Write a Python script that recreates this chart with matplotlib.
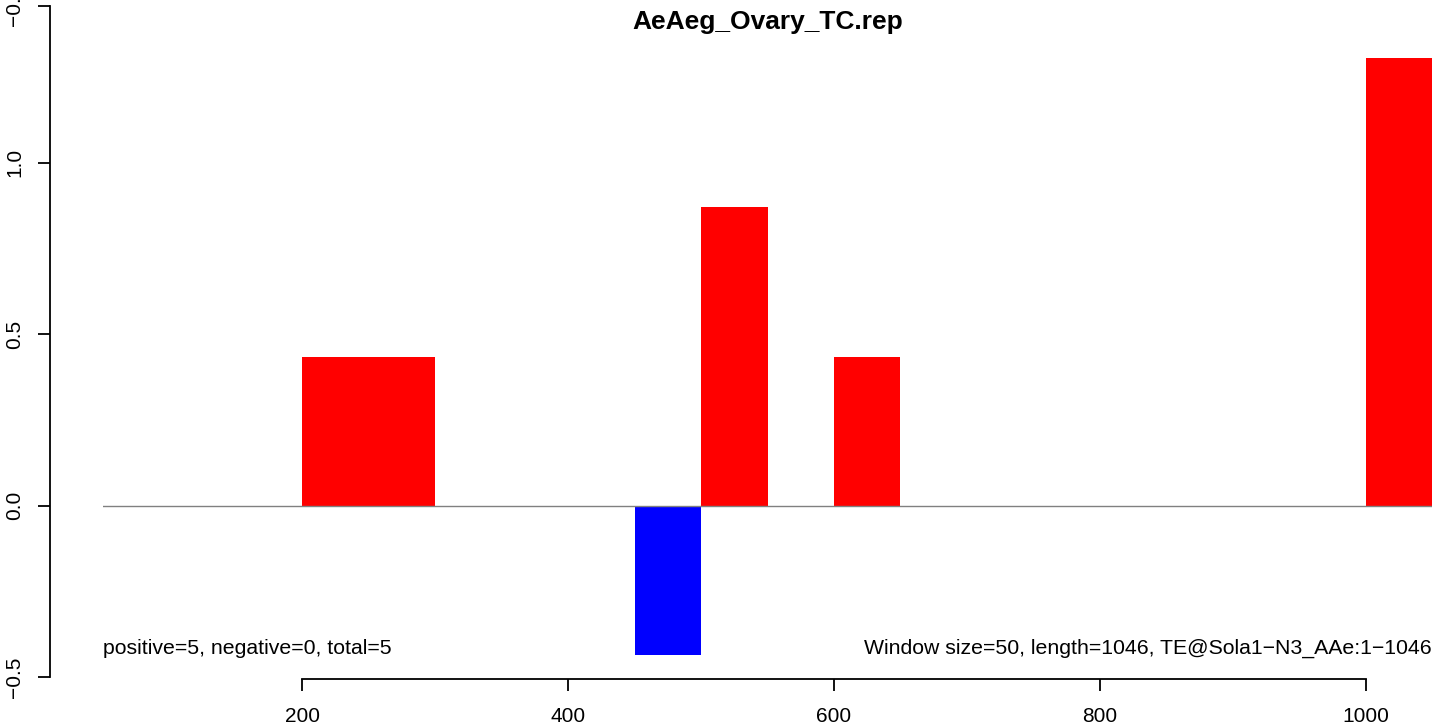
import matplotlib
matplotlib.use('Agg')
import matplotlib.pyplot as plt

plt.rcParams['font.family'] = ['Liberation Sans', 'DejaVu Sans']

# window start positions and scores
winStart = [200, 250, 450, 500, 600, 1000]
winScore = [0.4348, 0.4348, -0.4348, 0.8696, 0.4348, 1.3043]
winSize = 50
yTicks = [-0.5, 0.0, 0.5, 1.0, 1.457]
yTickLabels = ['\u22120.5', '0.0', '0.5', '1.0', '\u22120.5']
xTicks = [200, 400, 600, 800, 1000]
title = 'AeAeg_Ovary_TC.rep'
leftNote = 'positive=5, negative=0, total=5'
rightNote = 'Window size=50, length=1046, TE@Sola1\u2212N3_AAe:1\u22121046'

W, H = 1444, 725
fig = plt.figure(figsize=(W / 100, H / 100), dpi=100)
# axes in pixel coords: x 103..1432, y 5.7..679.3
ax = fig.add_axes([103 / W, 1 - 679.3 / H, (1432 - 103) / W, (679.3 - 5.7) / H])
ax.set_xlim(50, 1050)
ax.set_ylim(-0.5058, 1.457)

colors = ['red' if v > 0 else 'blue' for v in winScore]
ax.bar(winStart, winScore, width=winSize, align='edge', color=colors,
       linewidth=0)
ax.plot([50, 1050], [0, 0], color='gray', lw=1, zorder=3)

for s in ['top', 'right']:
    ax.spines[s].set_visible(False)
ax.spines['left'].set_position(('outward', 53 * 0.72))
ax.spines['left'].set_bounds(-0.5, 1.457)
ax.spines['bottom'].set_bounds(200, 1000)
for s in ['left', 'bottom']:
    ax.spines[s].set_linewidth(1.3)

ax.set_xticks(xTicks)
ax.set_xticklabels([str(t) for t in xTicks])
ax.set_yticks(yTicks)
ax.set_yticklabels(yTickLabels, rotation=90, va='center')
ax.tick_params(length=12 * 0.72, width=1.3, labelsize=15, pad=11)
ax.tick_params(axis='y', pad=10)

fig.text(767.5 / W, 1 - 22 / H, title, fontweight='bold', fontsize=19,
         ha='center', va='center')
ax.text(50, -0.4146, leftNote, ha='left', va='center', fontsize=15.3)
ax.text(1050, -0.4146, rightNote, ha='right', va='center', fontsize=15.3)

fig.savefig('out.png', dpi=100)
